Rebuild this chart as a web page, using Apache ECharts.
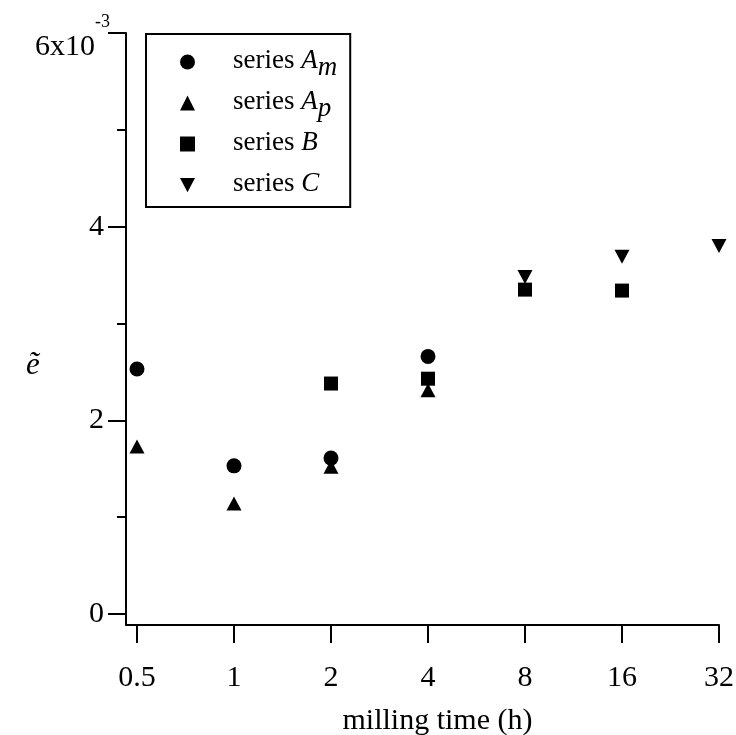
<!DOCTYPE html>
<html>
<head>
<meta charset="utf-8">
<script src="https://cdn.jsdelivr.net/npm/echarts@6/dist/echarts.min.js"></script>
<style>
  html, body { margin: 0; padding: 0; background: #fff; }
  #chart { width: 736px; height: 735px; }
</style>
</head>
<body>
<div id="chart"></div>
<script>
// Milling times (h) per series and the corresponding strain values (units of 1e-3)
const hoursAm = [0.5, 1, 2, 4];
const strainAm = [2.53, 1.53, 1.61, 2.66];

const hoursAp = [0.5, 1, 2, 4];
const strainAp = [1.73, 1.14, 1.52, 2.31];

const hoursB = [2, 4, 8, 16];
const strainB = [2.38, 2.43, 3.35, 3.34];

const hoursC = [8, 16, 32];
const strainC = [3.48, 3.69, 3.80];

// Axis ticks
const xTickValues = [0.5, 1, 2, 4, 8, 16, 32];
const yMajorTicks = [0, 2, 4, 6];
const yMinorTicks = [1, 3, 5];
const yPlainLabels = [0, 2, 4];
const yScaledLabels = [6];

const FONT = '"Liberation Serif", "Times New Roman", serif';
const BLACK = '#000';
const DOWN_TRIANGLE = 'path://M0,0L20,0L10,19Z';

const pairs = (xs, ys) => xs.map((x, i) => [x, ys[i]]);

// every entry carries a subscript slot so all rows share the same height
const legendText = {
  'series Am': '{s|series }{i|A}{sub|m}',
  'series Ap': '{s|series }{i|A}{sub|p}',
  'series B': '{s|series }{i|B}{sub| }',
  'series C': '{s|series }{i|C}{sub| }'
};

const chart = echarts.init(document.getElementById('chart'), null, { renderer: 'canvas' });

const axisLineStyle = { color: BLACK, width: 2 };
const markStyle = { color: BLACK, opacity: 1 };

chart.setOption({
  animation: false,
  backgroundColor: '#fff',
  title: {
    text: 'ẽ',
    left: 21,
    top: 345,
    textStyle: { fontFamily: FONT, fontStyle: 'italic', fontWeight: 'normal', fontSize: 31, color: BLACK }
  },
  grid: { left: 126, right: 17, top: 33, bottom: 110, outerBoundsMode: 'none', containLabel: false },
  legend: {
    orient: 'vertical',
    left: 146,
    top: 34,
    padding: [13, 13, 3, 34],
    itemGap: 7,
    itemWidth: 15,
    itemHeight: 15,
    selectedMode: false,
    borderColor: BLACK,
    borderWidth: 2,
    borderRadius: 0,
    backgroundColor: '#fff',
    data: ['series Am', 'series Ap', 'series B', 'series C'],
    formatter: name => legendText[name],
    textStyle: {
      fontFamily: FONT,
      color: BLACK,
      fontSize: 27,
      rich: {
        s: { fontFamily: FONT, fontSize: 27, lineHeight: 30, verticalAlign: 'top', padding: [0, 0, 0, 33] },
        i: { fontFamily: FONT, fontSize: 27, fontStyle: 'italic', lineHeight: 30, verticalAlign: 'top' },
        sub: { fontFamily: FONT, fontSize: 27, fontStyle: 'italic', lineHeight: 30, verticalAlign: 'top', padding: [7, 0, 0, 0] }
      }
    }
  },
  xAxis: {
    type: 'log',
    logBase: 2,
    min: 0.4622,
    max: 32,
    axisLine: { show: true, onZero: false, lineStyle: axisLineStyle },
    axisTick: { show: true, customValues: xTickValues, length: 18, lineStyle: axisLineStyle },
    axisLabel: {
      customValues: xTickValues,
      margin: 38,
      fontFamily: FONT,
      fontSize: 30,
      color: BLACK,
      formatter: v => String(v)
    },
    splitLine: { show: false },
    minorTick: { show: false },
    name: 'milling time (h)',
    nameLocation: 'middle',
    nameGap: 81,
    nameTextStyle: { fontFamily: FONT, fontSize: 30, color: BLACK, padding: [0, 0, 0, 30] }
  },
  yAxis: [
    {
      // axis line, major ticks and the plain labels
      type: 'value',
      position: 'left',
      min: -0.1136,
      max: 6,
      axisLine: { show: true, onZero: false, lineStyle: axisLineStyle },
      axisTick: { show: true, customValues: yMajorTicks, length: 18, lineStyle: axisLineStyle },
      axisLabel: {
        customValues: yPlainLabels,
        margin: 22,
        fontFamily: FONT,
        fontSize: 30,
        color: BLACK,
        formatter: v => String(v)
      },
      splitLine: { show: false }
    },
    {
      // minor ticks and the top label carrying the 10^-3 multiplier
      type: 'value',
      position: 'left',
      min: -0.1136,
      max: 6,
      axisLine: { show: false, onZero: false },
      axisTick: { show: true, customValues: yMinorTicks, length: 9, lineStyle: axisLineStyle },
      axisLabel: {
        customValues: yScaledLabels,
        margin: 16,
        fontFamily: FONT,
        fontSize: 30,
        color: BLACK,
        formatter: v => '{b|' + v + 'x10}{sup|-3}',
        rich: {
          b: { fontFamily: FONT, fontSize: 30, lineHeight: 58, verticalAlign: 'bottom' },
          sup: { fontFamily: FONT, fontSize: 18, verticalAlign: 'top', padding: [9, 0, 0, 0] }
        }
      },
      splitLine: { show: false }
    }
  ],
  series: [
    {
      name: 'series Am',
      type: 'scatter',
      symbol: 'circle',
      symbolSize: 15,
      itemStyle: markStyle,
      data: pairs(hoursAm, strainAm)
    },
    {
      name: 'series Ap',
      type: 'scatter',
      symbol: 'triangle',
      symbolSize: [15, 14],
      itemStyle: markStyle,
      data: pairs(hoursAp, strainAp)
    },
    {
      name: 'series B',
      type: 'scatter',
      symbol: 'rect',
      symbolSize: 14,
      itemStyle: markStyle,
      data: pairs(hoursB, strainB)
    },
    {
      name: 'series C',
      type: 'scatter',
      symbol: DOWN_TRIANGLE,
      symbolSize: [15, 14],
      itemStyle: markStyle,
      data: pairs(hoursC, strainC)
    }
  ]
});
</script>
</body>
</html>
